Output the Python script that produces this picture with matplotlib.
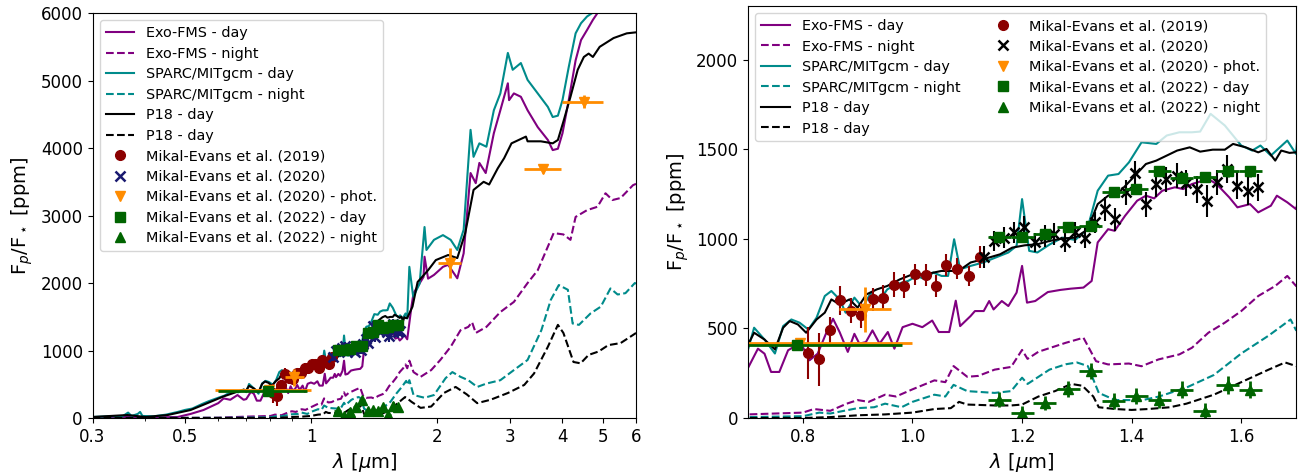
import numpy as np
import matplotlib.pyplot as plt
from matplotlib.ticker import NullFormatter

# ---- model dayside / nightside emission spectra (wavelength in um, Fp/F* in ppm) ----
exo_day_wl = [0.30, 0.36, 0.42, 0.48, 0.515, 0.553, 0.60, 0.618, 0.641, 0.667, 0.69,
              0.70, 0.718, 0.73, 0.742, 0.757, 0.773, 0.785, 0.80, 0.812, 0.827, 0.842,
              0.855, 0.867, 0.882, 0.894, 0.903, 0.915, 0.927, 0.94, 0.955, 0.967, 0.982,
              1.0, 1.018, 1.036, 1.048, 1.067, 1.079, 1.087, 1.106, 1.114, 1.13, 1.14,
              1.148, 1.163, 1.175, 1.19, 1.2, 1.209, 1.224, 1.247, 1.27, 1.289, 1.312,
              1.327, 1.338, 1.357, 1.369, 1.388, 1.41, 1.426, 1.441, 1.456, 1.479, 1.494,
              1.51, 1.54, 1.555, 1.578, 1.593, 1.616, 1.631, 1.654, 1.665, 1.684, 1.70,
              1.74, 1.76, 1.86, 1.87, 1.907, 1.97, 2.07, 2.13, 2.24, 2.32, 2.41, 2.48,
              2.53, 2.62, 2.74, 2.84, 2.96, 2.98, 3.06, 3.18, 3.3, 3.49, 3.69, 3.79, 3.9,
              4.0, 4.14, 4.3, 4.43, 4.58, 4.73, 4.85, 5.2]
exo_day = [10, 15, 8, 15, 60, 118, 220, 290, 270, 340, 270,
           280, 387, 359, 257, 257, 378, 400, 396, 322, 359, 470,
           554, 480, 369, 470, 415, 424, 489, 415, 480, 387, 507,
           526, 507, 544, 480, 480, 655, 513, 569, 597, 597, 653,
           606, 653, 625, 700, 849, 644, 653, 703, 715, 722, 728,
           765, 980, 1054, 1045, 1129, 1213, 1241, 1226, 1269, 1288, 1278,
           1306, 1334, 1306, 1232, 1176, 1194, 1148, 1185, 1241, 1204, 1166,
           1650, 1850, 2090, 2390, 2065, 2120, 2240, 2270, 2070, 2440, 3630, 3480,
           3780, 3630, 4220, 4560, 4960, 4710, 4810, 4760, 4560, 4310, 4120, 3970, 3990,
           4220, 4710, 5300, 5600, 5750, 5900, 6000, 6300]

exo_night_wl = [0.30, 0.50, 0.60, 0.70, 0.75, 0.80, 0.82, 0.85, 0.88, 0.90, 0.92, 0.95,
                0.97, 1.0, 1.04, 1.06, 1.075, 1.10, 1.12, 1.15, 1.18, 1.20, 1.21, 1.23,
                1.26, 1.28, 1.312, 1.335, 1.357, 1.395, 1.418, 1.449, 1.487, 1.51, 1.54,
                1.57, 1.60, 1.631, 1.662, 1.684, 1.70, 1.72, 1.76, 1.83, 1.94, 2.04,
                2.16, 2.28, 2.38, 2.43, 2.48, 2.63, 2.84, 3.06, 3.3, 3.49, 3.81, 4.02,
                4.18, 4.30, 4.58, 4.85, 5.07, 5.27, 5.51, 5.9, 6.0]
exo_night = [0, 2, 5, 20, 25, 30, 50, 40, 80, 100, 90, 130,
             120, 160, 210, 200, 290, 230, 235, 270, 285, 380, 330, 370,
             400, 420, 448, 317, 299, 304, 289, 327, 355, 392, 476,
             532, 597, 681, 737, 793, 737, 850, 680, 610, 710, 860,
             1055, 1300, 1350, 1420, 1260, 1350, 1570, 1720, 2000, 2190, 2740, 2720,
             2640, 2980, 3080, 3130, 3330, 3230, 3260, 3450, 3470]

sparc_day_wl = [0.30, 0.33, 0.355, 0.365, 0.372, 0.385, 0.39, 0.395, 0.42, 0.45, 0.48,
                0.50, 0.52, 0.55, 0.57, 0.60, 0.62, 0.65, 0.67, 0.69,
                0.70, 0.711, 0.73, 0.749, 0.764, 0.779, 0.794, 0.81, 0.825, 0.84, 0.852,
                0.867, 0.878, 0.894, 0.909, 0.924, 0.939, 0.954, 0.97, 0.992, 1.008,
                1.023, 1.038, 1.053, 1.065, 1.076, 1.087, 1.106, 1.129, 1.152, 1.175,
                1.19, 1.20, 1.213, 1.228, 1.251, 1.274, 1.297, 1.319, 1.338, 1.357,
                1.376, 1.395, 1.418, 1.445, 1.464, 1.487, 1.51, 1.525, 1.544, 1.57,
                1.60, 1.62, 1.635, 1.654, 1.684, 1.70,
                1.72, 1.757, 1.82, 1.87, 1.89, 1.97, 2.07, 2.16, 2.24, 2.32, 2.41, 2.45,
                2.53, 2.63, 2.74, 2.84, 2.96, 3.04, 3.18, 3.3, 3.49, 3.69, 3.79, 3.9,
                4.0, 4.14, 4.3, 4.43, 4.58, 4.71, 5.0]
sparc_day = [15, 25, 30, 80, 30, 60, 90, 30, 25, 50, 90,
             120, 140, 210, 250, 300, 330, 400, 380, 420,
             383, 504, 438, 360, 513, 550, 532, 494, 560, 681, 709,
             662, 588, 672, 616, 700, 653, 718, 746, 765, 793,
             774, 812, 793, 793, 998, 830, 849, 868, 896, 924,
             961, 1222, 933, 924, 970, 1007, 994, 1054, 1269, 1353,
             1362, 1427, 1539, 1530, 1577, 1595, 1595, 1599, 1698, 1633,
             1521, 1493, 1521, 1465, 1549, 1474,
             2240, 1795, 1990, 2830, 2490, 2640, 2710, 2640, 2490, 2790, 4270, 3870,
             4070, 4020, 4560, 4810, 5410, 5160, 5260, 5010, 4810, 4610, 4460, 4480,
             4710, 5200, 5700, 5850, 5950, 6000, 6300]

sparc_night_wl = [0.30, 0.60, 0.70, 0.80, 0.83, 0.85, 0.90, 0.93, 0.95, 0.98, 1.0, 1.04,
                  1.06, 1.075, 1.10, 1.15, 1.18, 1.20, 1.21, 1.25, 1.28, 1.30, 1.32,
                  1.34, 1.37, 1.40, 1.42, 1.45, 1.50, 1.55, 1.60, 1.65, 1.69, 1.70,
                  1.72, 1.76, 1.87, 1.97, 2.1, 2.18, 2.28, 2.38, 2.5, 2.63, 2.84, 3.06,
                  3.3, 3.56, 3.75, 3.92, 4.12, 4.23, 4.38, 4.67, 4.94, 5.21, 5.42, 5.66,
                  5.96, 6.0]
sparc_night = [0, 2, 5, 10, 30, 25, 55, 60, 80, 60, 90, 130,
               120, 185, 150, 140, 150, 225, 190, 270, 300, 310, 290,
               140, 100, 100, 100, 120, 170, 240, 360, 460, 550, 490,
               560, 340, 300, 340, 590, 680, 610, 560, 460, 510, 560, 710,
               860, 1300, 1750, 1970, 1900, 1400, 1380, 1550, 1650, 1920, 1830, 1850,
               2000, 1990]

p18_day_wl = [0.30, 0.364, 0.402, 0.454, 0.515, 0.565, 0.618, 0.667, 0.69,
              0.70, 0.711, 0.73, 0.749, 0.764, 0.776, 0.791, 0.806, 0.825, 0.84, 0.852,
              0.867, 0.885, 0.90, 0.916, 0.935, 0.954, 0.977, 1.0, 1.023, 1.053, 1.084,
              1.106, 1.129, 1.16, 1.182, 1.205, 1.228, 1.251, 1.274, 1.297, 1.316,
              1.327, 1.338, 1.357, 1.38, 1.403, 1.426, 1.445, 1.464, 1.483, 1.506,
              1.525, 1.548, 1.57, 1.585, 1.608, 1.631, 1.646, 1.662, 1.673, 1.688, 1.70,
              1.75, 1.80, 1.907, 1.99, 2.13, 2.24, 2.34, 2.45, 2.59, 2.67, 2.8, 2.9,
              3.02, 3.27, 3.3, 3.55, 3.79, 3.9, 4.03, 4.18, 4.35, 4.5, 4.62, 4.73, 4.91,
              5.3, 5.7, 6.0]
p18_day = [15, 44, 15, 44, 118, 220, 320, 390, 420,
           410, 476, 438, 383, 504, 541, 522, 476, 550, 588, 662,
           634, 662, 616, 690, 718, 737, 774, 802, 802, 821, 821,
           868, 886, 914, 951, 964, 970, 989, 1002, 1007, 1045,
           1110, 1194, 1241, 1269, 1343, 1418, 1437, 1465, 1493, 1511,
           1487, 1498, 1498, 1530, 1511, 1483, 1502, 1437, 1493, 1480, 1483,
           1650, 2015, 2190, 2340, 2415, 2370, 2740, 3380, 3500, 3460, 3700, 3850,
           4070, 4170, 4100, 4100, 4070, 4120, 4415, 4760, 5160, 5350, 5400, 5350, 5500,
           5630, 5700, 5715]

p18_night_wl = [0.30, 0.80, 0.85, 0.90, 0.95, 1.0, 1.04, 1.07, 1.085, 1.10, 1.15, 1.18,
                1.20, 1.23, 1.26, 1.29, 1.31, 1.33, 1.34, 1.37, 1.40, 1.43, 1.47, 1.50,
                1.55, 1.60, 1.65, 1.68, 1.70, 1.74, 1.83, 1.94, 2.08, 2.22, 2.36, 2.5,
                2.69, 2.96, 3.24, 3.42, 3.69, 3.9, 4.02, 4.25, 4.42, 4.62, 4.88, 5.15,
                5.51, 5.9, 6.0]
p18_night = [0, 0, 5, 15, 20, 30, 50, 55, 90, 75, 70, 70,
             75, 120, 150, 190, 180, 120, 60, 50, 45, 50, 60, 80,
             130, 200, 270, 310, 290, 240, 150, 170, 370, 460, 350, 220,
             270, 370, 490, 660, 1055, 1380, 1260, 830, 810, 935, 985, 1080,
             1110, 1230, 1260]

# ---- observations ----
me19_wl = [0.810, 0.829, 0.849, 0.868, 0.888, 0.906, 0.928, 0.947, 0.967, 0.985,
           1.005, 1.024, 1.043, 1.062, 1.082, 1.103, 1.123]
me19_fp = [364, 327, 489, 657, 600, 573, 662, 672, 743, 737,
           802, 797, 737, 855, 834, 793, 899]
me19_err = [145, 150, 75, 80, 70, 70, 65, 70, 70, 65,
            60, 60, 60, 60, 60, 55, 60]

me20_wl = [1.130, 1.148, 1.167, 1.185, 1.204, 1.223, 1.241, 1.259, 1.278, 1.297,
           1.315, 1.333, 1.352, 1.370, 1.389, 1.407, 1.426, 1.445, 1.463, 1.482,
           1.500, 1.519, 1.537, 1.556, 1.574, 1.593, 1.612, 1.630]
me20_fp = [900, 989, 1007, 1036, 1064, 980, 1017, 1026, 983, 1036,
           1007, 1092, 1166, 1110, 1260, 1368, 1194, 1306, 1334, 1353,
           1312, 1278, 1213, 1316, 1390, 1297, 1269, 1288]
me20_err = [60, 55, 60, 60, 65, 55, 60, 60, 55, 60,
            60, 60, 65, 65, 70, 65, 70, 70, 70, 70,
            70, 75, 90, 70, 80, 75, 80, 75]

phot_wl = [0.795, 0.913, 2.15, 3.6, 4.5]
phot_fp = [418, 606, 2296, 3690, 4690]
phot_xerr = [0.205, 0.047, 0.14, 0.37, 0.5]
phot_err = [30, 125, 220, 60, 100]

me22_day_wl = [0.79, 1.158, 1.200, 1.241, 1.284, 1.325, 1.367, 1.408, 1.450, 1.491,
               1.533, 1.575, 1.616]
me22_day_xerr = [0.19] + [0.021] * 12
me22_day = [405, 1013, 1013, 1026, 1067, 1073, 1260, 1278, 1381, 1340, 1347, 1377, 1377]
me22_day_err = [15, 25, 25, 25, 25, 25, 25, 25, 25, 25, 25, 30, 30]

me22_night_wl = [1.158, 1.200, 1.241, 1.284, 1.325, 1.367, 1.408, 1.450, 1.491,
                 1.533, 1.575, 1.616]
me22_night = [103, 28, 84, 162, 261, 97, 121, 103, 159, 41, 183, 159]
me22_night_err = [40, 40, 40, 45, 45, 45, 45, 45, 45, 45, 50, 50]

fig = plt.figure(figsize=(13.01, 4.73), dpi=100)
ax1 = fig.add_axes([0.0711, 0.1163, 0.4178, 0.856])
ax2 = fig.add_axes([0.575, 0.1163, 0.4212, 0.871])

for ax, cross_col in [(ax1, 'midnightblue'), (ax2, 'black')]:
    ax.plot(exo_day_wl, exo_day, color='purple', lw=1.5, label='Exo-FMS - day')
    ax.plot(exo_night_wl, exo_night, color='purple', lw=1.5, ls='--', label='Exo-FMS - night')
    ax.plot(sparc_day_wl, sparc_day, color='darkcyan', lw=1.5, label='SPARC/MITgcm - day')
    ax.plot(sparc_night_wl, sparc_night, color='darkcyan', lw=1.5, ls='--',
            label='SPARC/MITgcm - night')
    ax.plot(p18_day_wl, p18_day, color='black', lw=1.5, label='P18 - day')
    ax.plot(p18_night_wl, p18_night, color='black', lw=1.5, ls='--', label='P18 - day')

    ax.errorbar(me19_wl, me19_fp, yerr=me19_err, fmt='none', ecolor='darkred', elinewidth=1.5)
    ax.plot(me19_wl, me19_fp, 'o', color='darkred', ms=7, label='Mikal-Evans et al. (2019)')
    ax.errorbar(me20_wl, me20_fp, yerr=me20_err, fmt='none', ecolor=cross_col, elinewidth=1.5)
    ax.plot(me20_wl, me20_fp, 'x', color=cross_col, ms=7, mew=1.8,
            label='Mikal-Evans et al. (2020)')
    ax.errorbar(phot_wl, phot_fp, xerr=phot_xerr, yerr=phot_err, fmt='none',
                ecolor='darkorange', elinewidth=2)
    ax.plot(phot_wl, phot_fp, 'v', color='darkorange', ms=7,
            label='Mikal-Evans et al. (2020) - phot.')
    ax.errorbar(me22_day_wl, me22_day, xerr=me22_day_xerr, yerr=me22_day_err, fmt='none',
                ecolor='darkgreen', elinewidth=2)
    ax.plot(me22_day_wl, me22_day, 's', color='darkgreen', ms=7,
            label='Mikal-Evans et al. (2022) - day')
    ax.errorbar(me22_night_wl, me22_night, xerr=0.021, yerr=me22_night_err, fmt='none',
                ecolor='darkgreen', elinewidth=2)
    ax.plot(me22_night_wl, me22_night, '^', color='darkgreen', ms=7,
            label='Mikal-Evans et al. (2022) - night')

    ax.set_xlabel(r'$\lambda$ [$\mu$m]', fontsize=14)
    ax.set_ylabel(r'F$_p$/F$_\star$ [ppm]', fontsize=14)
    ax.tick_params(labelsize=12)

ax1.set_xscale('log')
ax1.set_xlim(0.3, 6)
ax1.set_ylim(0, 6000)
ax1.set_xticks([0.3, 0.5, 1, 2, 3, 4, 5, 6])
ax1.set_xticklabels(['0.3', '0.5', '1', '2', '3', '4', '5', '6'])
ax1.xaxis.set_minor_formatter(NullFormatter())
ax1.legend(loc='upper left', fontsize=10.4, labelspacing=0.45)

ax2.set_xlim(0.7, 1.7)
ax2.set_ylim(0, 2300)
ax2.set_xticks([0.8, 1.0, 1.2, 1.4, 1.6])
ax2.set_yticks([0, 500, 1000, 1500, 2000])
ax2.legend(loc='upper left', fontsize=10.4, labelspacing=0.45, ncol=2)

fig.savefig('out.png', dpi=100)
